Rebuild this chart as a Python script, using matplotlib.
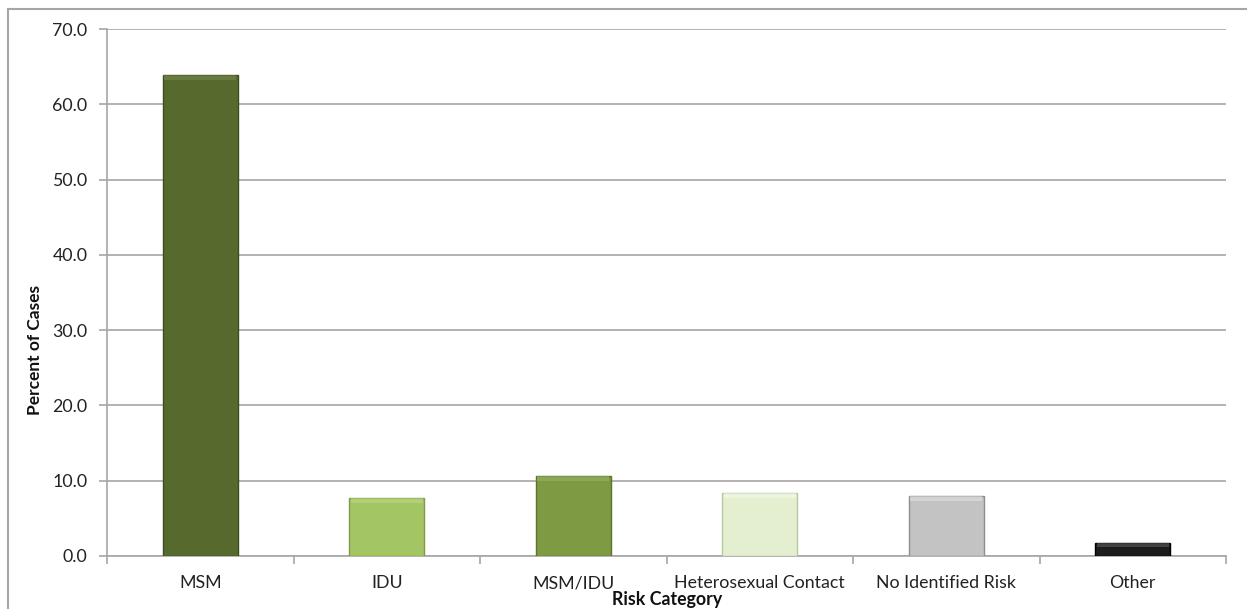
import matplotlib
matplotlib.use("Agg")
import matplotlib.pyplot as plt
from matplotlib.lines import Line2D
import numpy as np

categories = ["MSM", "IDU", "MSM/IDU", "Heterosexual Contact", "No Identified Risk", "Other"]
percent_of_cases = [63.9, 7.7, 10.6, 8.4, 8.0, 1.7]
bar_colors = ["#576A2E", "#A4C563", "#7E9B43", "#E4EFD0", "#C3C3C3", "#1C1C1C"]
edge_colors = ["#3E4D1F", "#7F9C45", "#5B7230", "#B9C8A5", "#8E8E8E", "#000000"]
highlight_colors = ["#7A8C54", "#C2DB8E", "#9EB76A", "#F6FBEE", "#E6E6E6", "#6A6A6A"]
y_ticks = [0, 10, 20, 30, 40, 50, 60, 70]

plt.rcParams["font.family"] = ["Lato", "DejaVu Sans"]

W, H = 1247, 609
fig = plt.figure(figsize=(W / 100, H / 100), dpi=100)
ax = fig.add_axes([107 / W, 1 - 556 / H, (1226 - 107) / W, (556 - 29) / H])

x = np.arange(len(categories))
width = 0.4
bars = ax.bar(x, percent_of_cases, width=width, color=bar_colors,
              edgecolor=edge_colors, linewidth=1.0, zorder=3)

# soft bevel along the top of each bar
for xi, val, hc in zip(x, percent_of_cases, highlight_colors):
    bevel = min(0.7, val * 0.3)
    ax.bar(xi, bevel, width=width * 0.96, bottom=val - bevel,
           color=hc, alpha=0.5, linewidth=0, zorder=4)

ax.set_xlim(-0.5, len(categories) - 0.5)
ax.set_ylim(0, 70)
ax.set_yticks(y_ticks)
ax.set_yticklabels([f"{v:.1f}" for v in y_ticks])
ax.yaxis.grid(True, color="#A6A6A6", linewidth=1.2, zorder=0)
ax.set_axisbelow(True)

ax.set_xticks(x)
ax.set_xticklabels(categories)
ax.set_xticks(np.arange(-0.5, len(categories), 1.0), minor=True)
ax.tick_params(axis="x", which="major", length=0, pad=14, labelsize=12.8, labelcolor="#222222")
ax.tick_params(axis="x", which="minor", length=6, width=1.2, color="#A6A6A6")
ax.tick_params(axis="y", length=6, width=1.2, color="#A6A6A6", pad=8,
               labelsize=12.8, labelcolor="#222222")

for side in ("top", "right"):
    ax.spines[side].set_visible(False)
for side in ("left", "bottom"):
    ax.spines[side].set_color("#A6A6A6")
    ax.spines[side].set_linewidth(1.2)

fig.text(667 / W, 1 - 600 / H, "Risk Category", ha="center", va="center",
         fontsize=12.8, fontweight="bold", color="#111111")
fig.text(35 / W, 1 - 350 / H, "Percent of Cases", ha="center", va="center",
         rotation=90, fontsize=12.5, fontweight="bold", color="#111111")

# outer chart frame
fig.add_artist(Line2D([8 / W, 8 / W], [0, 1 - 9 / H], transform=fig.transFigure,
                      color="#A6A6A6", linewidth=1.5))
fig.add_artist(Line2D([8 / W, 1], [1 - 9 / H, 1 - 9 / H], transform=fig.transFigure,
                      color="#A6A6A6", linewidth=1.5))

fig.savefig("out.png", dpi=100)
